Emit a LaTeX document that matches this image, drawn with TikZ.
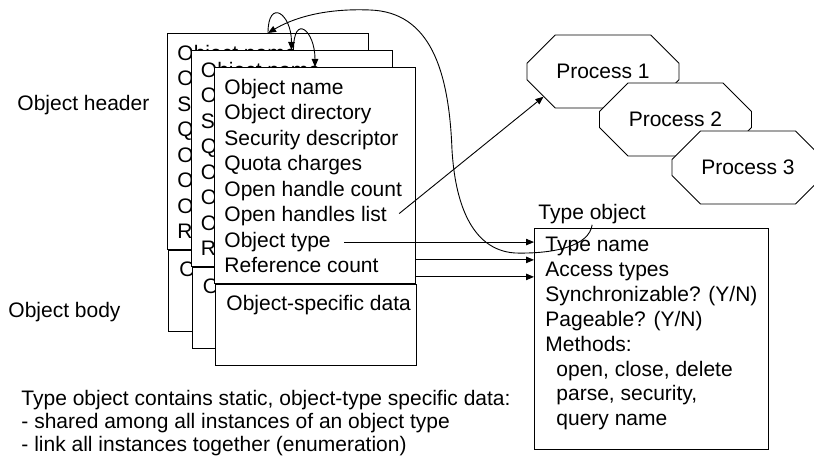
\documentclass[tikz,border=0pt]{standalone}
\usepackage{fontspec}
\setmainfont{Liberation Sans}
\usetikzlibrary{arrows.meta,positioning,calc,shapes.misc}

\begin{document}
\begin{tikzpicture}[
    x=1pt,y=-1pt,line width=0.9pt,
    txt/.style={font=\fontsize{21}{25}\selectfont, inner sep=0pt, anchor=base west},
    hdrbox/.style={draw, fill=white, anchor=north west, minimum width=201, minimum height=216, inner sep=0pt},
    bodybox/.style={draw, fill=white, anchor=north west, minimum width=201, minimum height=81, inner sep=0pt},
    proc/.style={draw, fill=white, chamfered rectangle, chamfered rectangle xsep=21pt, chamfered rectangle ysep=21pt, minimum width=152, minimum height=73, inner sep=0pt, font=\fontsize{21}{25}\selectfont},
    ptr/.style={-{Triangle[length=8pt,width=6.5pt]}}
  ]
    \clip (0,0) rectangle (814,462);
    \node[txt] (hdrlabel) at (17,111) {Object header};
    \node[txt] (bodylabel) at (8,318) {Object body};
    \foreach \k in {1,2,3} {
      \pgfmathsetmacro\bx{167+23.5*(\k-1)}
      \pgfmathsetmacro\by{33+17*(\k-1)}
      \node[hdrbox] (hdr\k) at (\bx,\by) {};
      \node[bodybox] (body\k) at ([xshift=1pt]hdr\k.south west) {};
      \foreach \entry [count=\i] in {Object name,Object directory,Security descriptor,Quota charges,Open handle count,Open handles list,Object type,Reference count} {
        \node[txt] (hdr\k-\i) at ($(hdr\k.north west)+(10,{27.5+25.5*(\i-1)})$) {\entry};
      }
      \node[txt] (data\k) at ($(body\k.north west)+(11,27)$) {Object-specific data};
      \coordinate (lnk\k) at ($(hdr\k.north west)+(101,0)$);
    }
    \node[proc] (p1) at (603,71.5) {Process 1};
    \node[proc] (p2) at (675.5,119.5) {Process 2};
    \node[proc] (p3) at (748,167.5) {Process 3};
    \node[draw, anchor=north west, minimum width=234, minimum height=221, inner sep=0pt] (tbox) at (534,228) {};
    \node[txt] (tlabel) at (538,220) {Type object};
    \foreach \entry [count=\i] in {Type name,Access types,Synchronizable? (Y/N),Pageable? (Y/N),Methods:,{\hspace*{11pt}open, close, delete},{\hspace*{11pt}parse, security,},{\hspace*{11pt}query name}} {
      \node[txt] (tl-\i) at ($(tbox.north west)+(11,{24+24.8*(\i-1)})$) {\entry};
    }
    \foreach \entry [count=\i] in {{Type object contains static, object-type specific data:},{- shared among all instances of an object type},{- link all instances together (enumeration)}} {
      \node[txt] (note-\i) at (21,{405+23*(\i-1)}) {\entry};
    }
    \draw[ptr] ([xshift=12pt,yshift=3pt]hdr3-6.east) -- (p1.203);
    \coordinate (otail) at ([xshift=13pt]hdr3-7.east);
    \coordinate (rtail2) at ($(hdr3.south east)+(0,-24)$);
    \coordinate (rtail1) at ($(hdr3.south east)+(0,-7)$);
    \foreach \t in {otail,rtail2,rtail1} {
      \draw[ptr] (\t) -- (\t -| tbox.west);
    }
    \draw[ptr] (lnk1) .. controls +(0,-35) and +(0,-37) .. (lnk2);
    \draw[ptr] ([xshift=2pt]lnk2) .. controls +(0,-37) and +(0,-37) .. (lnk3);
    \draw[ptr] (tlabel.south) .. controls +(-3,21) and (555,254) .. (515,253)
      .. controls (470,250) and (455,200) .. (452,150)
      .. controls (449,70) and (430,12) .. (370,10)
      .. controls (320,8) and (290,20) .. (lnk1);
\end{tikzpicture}
\end{document}
